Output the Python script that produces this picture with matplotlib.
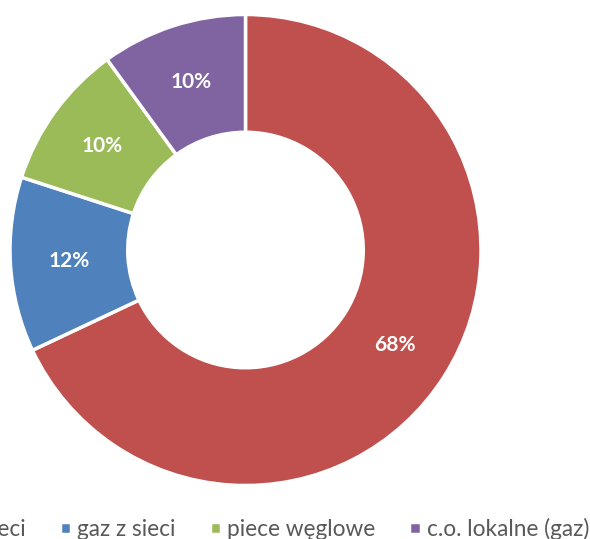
import matplotlib
matplotlib.use("Agg")
import matplotlib.pyplot as plt
import numpy as np

categories = ["c.o. z sieci", "gaz z sieci", "piece węglowe", "c.o. lokalne (gaz)"]
values = [68, 12, 10, 10]
colors = ["#C0504D", "#4F81BD", "#9BBB59", "#8064A2"]

plt.rcParams['font.family'] = ['Lato', 'DejaVu Sans']

W, H = 590, 539
fig = plt.figure(figsize=(W / 100, H / 100), dpi=100)
cx, cy, r = 245.5, 250, 235.5
ax = fig.add_axes([(cx - r) / W, (H - cy - r) / H, 2 * r / W, 2 * r / H])

wedges, _ = ax.pie(values, colors=colors, startangle=90, counterclock=False,
                   radius=1, wedgeprops=dict(width=0.5, edgecolor='white', linewidth=2.5))
ang0 = 90.0
total = sum(values)
for v in values:
    mid = ang0 - v / total * 360 / 2
    ang0 -= v / total * 360
    rr = 0.75
    ax.text(rr * np.cos(np.radians(mid)), rr * np.sin(np.radians(mid)), f"{v}%",
            ha='center', va='center', color='white', fontsize=15, fontweight='bold')
ax.set_xlim(-1, 1)
ax.set_ylim(-1, 1)
ax.set_aspect('equal')
ax.axis('off')

fig.legend(wedges, categories, loc='center right', bbox_to_anchor=(589 / W, 1 - 529 / H),
           ncol=4, frameon=False, fontsize=16.3, handlelength=0.5, handleheight=0.5,
           handletextpad=0.27, columnspacing=1.5, borderpad=0, borderaxespad=0,
           labelcolor='#595959')

fig.savefig("out.png", dpi=100)
